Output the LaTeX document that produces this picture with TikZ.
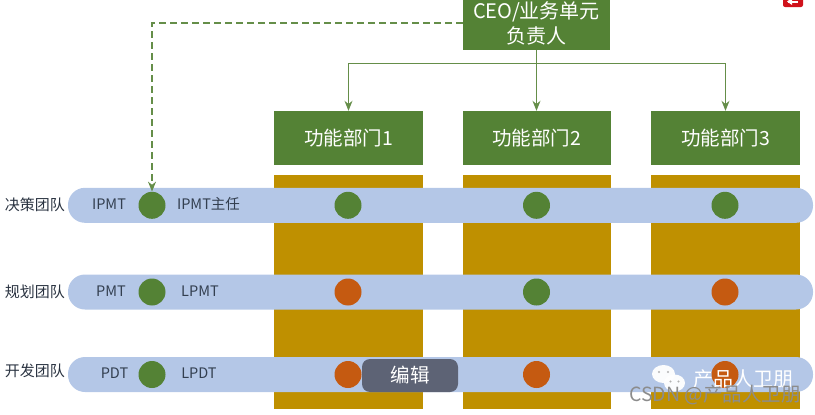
\documentclass[tikz,border=0pt]{standalone}
\usepackage{fontspec}
\setmainfont{Noto Sans CJK SC}
\usetikzlibrary{arrows.meta,positioning}
\definecolor{deptgreen}{HTML}{548235}
\definecolor{deptgold}{HTML}{BF9000}
\definecolor{bandblue}{HTML}{B4C7E7}
\definecolor{dotorange}{HTML}{C55A11}
\definecolor{inktext}{HTML}{333F50}
\definecolor{editgrey}{HTML}{5D6375}
\definecolor{cornerred}{HTML}{D0121B}
\tikzset{
  deptbox/.style={rectangle,fill=deptgreen,text=white,minimum width=149pt,minimum height=54pt,inner sep=0pt,font=\fontsize{19.5}{25}\selectfont,align=center},
  goldbox/.style={rectangle,fill=deptgold,minimum width=149pt,minimum height=234pt,inner sep=0pt},
  bandbox/.style={rectangle,fill=bandblue,rounded corners=17pt,minimum width=745pt,minimum height=35pt,inner sep=0pt},
  okdot/.style={circle,fill=deptgreen,minimum size=27pt,inner sep=0pt},
  warndot/.style={circle,fill=dotorange,minimum size=27pt,inner sep=0pt},
  rowlabel/.style={text=inktext!80!black,font=\fontsize{15}{17}\selectfont,inner sep=0pt},
  rolelabel/.style={text=inktext,font=\fontsize{14.5}{16}\selectfont,inner sep=0pt},
  reportline/.style={draw=deptgreen!90!white,line width=1.1pt,-{Stealth[length=10pt,width=8pt]}}
}
\begin{document}
\begin{tikzpicture}[x=1pt,y=-1pt]
\useasboundingbox (0,0) rectangle (815,415);
\clip (0,0) rectangle (815,415);
\node[deptbox,minimum width=147pt,font=\fontsize{20}{25}\selectfont] (ceo) at (536.5,23) {CEO/业务单元\\负责人};
\node[deptbox] (dept1) at (348.5,138) {功能部门1};
\node[deptbox,minimum width=148pt] (dept2) at (536.5,138) {功能部门2};
\node[deptbox] (dept3) at (725.5,138) {功能部门3};
\node[goldbox] (gold1) at (348.5,292) {};
\node[goldbox,minimum width=148pt] (gold2) at (536.5,292) {};
\node[goldbox] (gold3) at (725.5,292) {};
\node[bandbox] (band1) at (440.5,205.3) {};
\node[bandbox] (band2) at (440.5,292) {};
\node[bandbox] (band3) at (440.5,374.5) {};
\node[rowlabel] (row1) at (35,205) {决策团队};
\node[rowlabel] (row2) at (35,292) {规划团队};
\node[rowlabel] (row3) at (35,371) {开发团队};
\node[rolelabel] (ipmt) at (109,204) {IPMT};
\node[rolelabel] (pmt) at (111,291) {PMT};
\node[rolelabel] (pdt) at (114.5,373) {PDT};
\node[rolelabel] (ipmtlead) at (208.5,204) {IPMT主任};
\node[rolelabel] (lpmt) at (200,291) {LPMT};
\node[rolelabel] (lpdt) at (199,373) {LPDT};
\node[okdot] (lead1) at (152,205.3) {};
\node[okdot] (lead2) at (152,292) {};
\node[okdot] (lead3) at (152,374.5) {};
\node[okdot] (d11) at (348,205.3) {};
\node[okdot] (d12) at (536.5,205.3) {};
\node[okdot] (d13) at (725,205.3) {};
\node[warndot] (d21) at (348,292) {};
\node[okdot] (d22) at (536.5,292) {};
\node[warndot] (d23) at (725,292) {};
\node[warndot] (d31) at (348,374.5) {};
\node[warndot] (d32) at (536.5,374.5) {};
\node[warndot] (d33) at (725,374.5) {};
\draw[reportline] (ceo.south) -- (dept2.north);
\draw[reportline] (ceo.south) -- ++(0,13) -| (dept1.north);
\draw[reportline] (ceo.south) -- ++(0,13) -| (dept3.north);
\draw[reportline,dash pattern=on 7pt off 4pt] (ceo.west) -| (lead1.north);
% overlays of the page
\node[rectangle,fill=editgrey,rounded corners=8pt,minimum width=96pt,minimum height=33pt,inner sep=0pt,text=white,font=\fontsize{19.5}{22}\selectfont] (edit) at (410,375.5) {编辑};
\fill[cornerred,rounded corners=2pt] (783,-4) rectangle (803,7);
\fill[white] (788,0.5) rectangle (798,2.5);
\fill[white] (787,1.5) -- (792,-2) -- (792,5) -- cycle;
\fill[white,opacity=.95] (663.5,374) ellipse (11.5 and 9);
\fill[white,opacity=.95] (674.5,383) ellipse (10.5 and 8.5);
\fill[gray!60] (659,372) circle (1.2) (668,372) circle (1.2) (670.5,381.5) circle (1.2) (678.5,381.5) circle (1.2);
\node[text=white,font=\fontsize{20}{22}\selectfont,inner sep=0pt] (wechat) at (743.5,379) {产品人卫朋};
\node[text=black!45,font=\fontsize{19.5}{22}\selectfont,inner sep=0pt] (csdn) at (715,395) {CSDN @产品人卫朋};
\end{tikzpicture}
\end{document}
